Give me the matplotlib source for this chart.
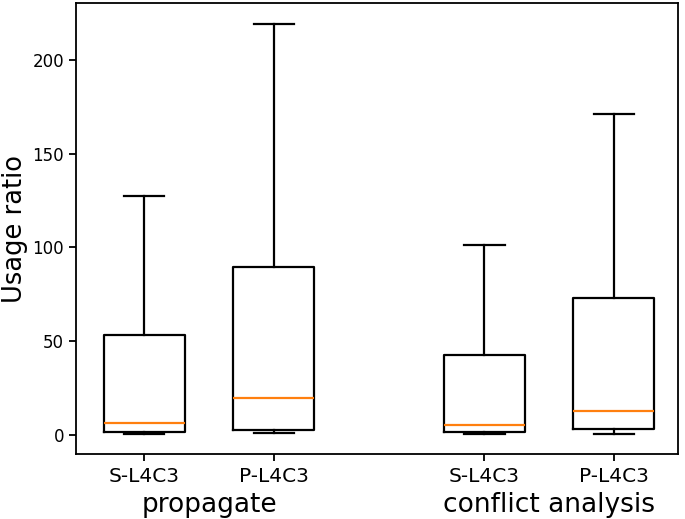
"""
Usage ratio box plots: propagate vs conflict analysis
"""

import matplotlib
matplotlib.use("Agg")
from matplotlib import pyplot as plt
import matplotlib.transforms as mtransforms

# box statistics
labels = ["S-L4C3", "P-L4C3", "S-L4C3", "P-L4C3"]
groups = ["propagate", "conflict analysis"]
whislo = [0.4, 0.7, 0.3, 0.6]
q1 = [1.3, 2.5, 1.3, 3.0]
med = [6.4, 19.8, 5.2, 12.6]
q3 = [53.2, 89.7, 42.6, 73.0]
whishi = [127.4, 219.4, 101.4, 171.3]

positions = [1.0, 1.8, 3.1, 3.9]

stats = []
for i in range(len(labels)):
    stats.append({
        "label": labels[i],
        "whislo": whislo[i],
        "q1": q1[i],
        "med": med[i],
        "q3": q3[i],
        "whishi": whishi[i],
        "fliers": [],
    })

fig = plt.figure(figsize=(6.85, 5.19), dpi=100)
ax = fig.add_axes([0.1105, 0.1247, 0.879, 0.869])

lw = 1.6
ax.bxp(stats, positions=positions, widths=0.5, showfliers=False,
       boxprops=dict(linewidth=lw, color="black"),
       whiskerprops=dict(linewidth=lw, color="black"),
       capprops=dict(linewidth=lw, color="black"),
       medianprops=dict(linewidth=lw, color="#ff7f0e"))

ax.set_xlim(0.577, 4.295)
ax.set_ylim(-10.5, 230.5)
ax.set_yticks([0, 50, 100, 150, 200])
ax.tick_params(axis="y", labelsize=12, length=5, width=1.3)
ax.tick_params(axis="x", labelsize=14.5, length=5, width=1.3, pad=4)
for spine in ax.spines.values():
    spine.set_linewidth(1.3)

ax.set_ylabel("Usage ratio", fontsize=18.5, labelpad=3)

trans = mtransforms.blended_transform_factory(ax.transData, ax.transAxes)
ax.text((positions[0] + positions[1]) / 2, -0.113, groups[0], transform=trans,
        ha="center", va="center", fontsize=19)
ax.text((positions[2] + positions[3]) / 2, -0.113, groups[1], transform=trans,
        ha="center", va="center", fontsize=19)

plt.savefig("out.png", dpi=100)
